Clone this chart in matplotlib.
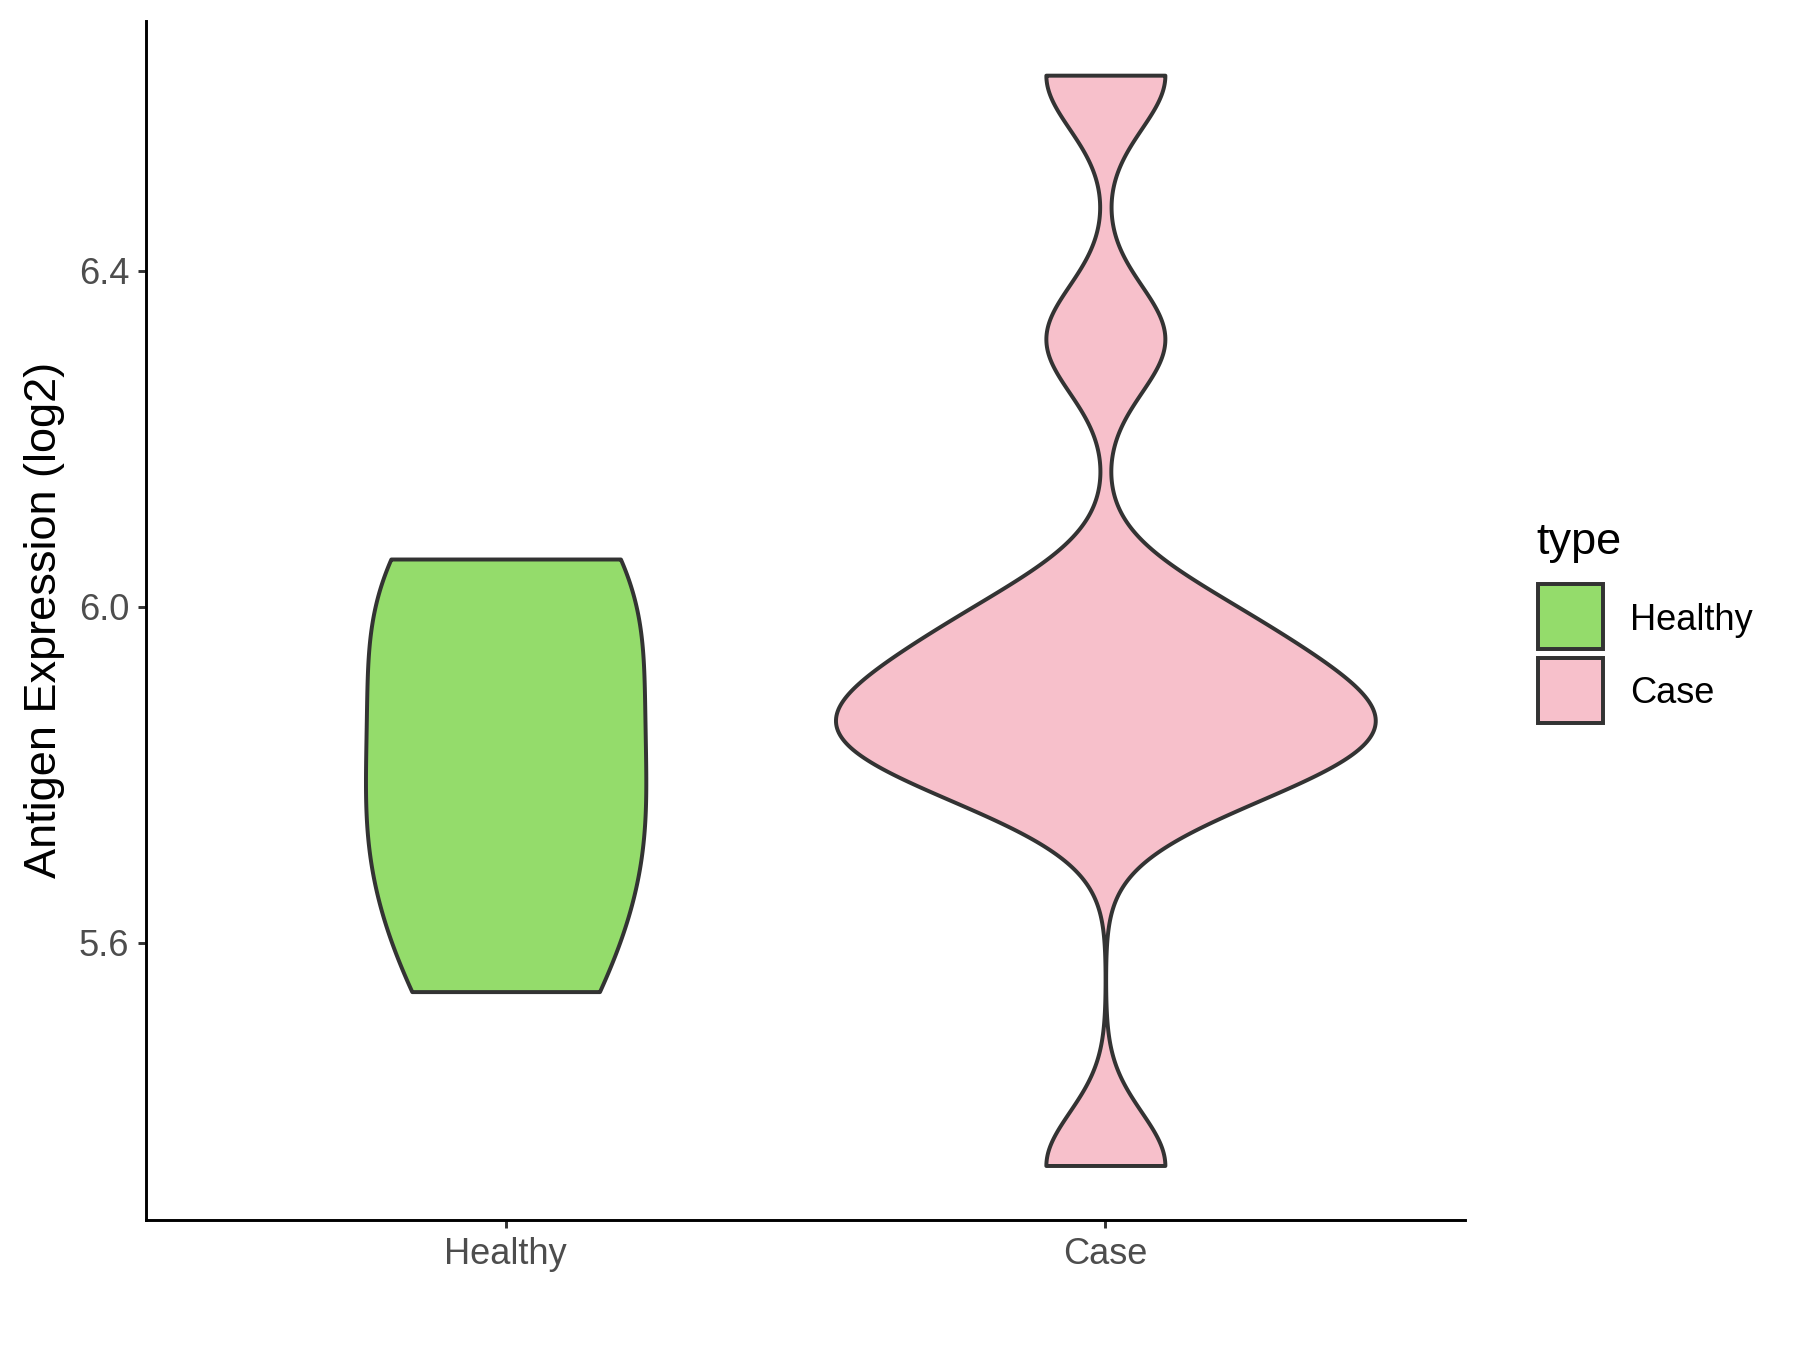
import numpy as np
import matplotlib.pyplot as plt
from matplotlib.patches import Rectangle

plt.rcParams['font.family'] = ['Liberation Sans', 'DejaVu Sans']

# data (log2 antigen expression per sample)
groups = ['Healthy', 'Case']
healthy_vals = [5.542, 5.70, 5.80, 5.98, 6.057]
case_vals = [5.335, 5.78, 5.82, 5.85, 5.87, 5.90, 5.95, 6.00, 6.319, 6.633]
bandwidths = [0.135, 0.0637]
fill_colors = ['#94DC6B', '#F7C0CB']
edge_color = '#333333'

W, H = 1800, 1350


def kde(vals, bw, grid):
    vals = np.asarray(vals)
    z = (grid[:, None] - vals[None, :]) / bw
    return np.exp(-0.5 * z ** 2).sum(axis=1) / (len(vals) * bw * np.sqrt(2 * np.pi))


def fx(px):
    return px / W


def fy(py):
    return 1 - py / H


samples = [healthy_vals, case_vals]
grids, dens = [], []
for vals, bw in zip(samples, bandwidths):
    g = np.linspace(min(vals), max(vals), 512)
    grids.append(g)
    dens.append(kde(vals, bw, g))
# ggplot-like scale="area": all violins share one density scale
dmax = max(d.max() for d in dens)

fig = plt.figure(figsize=(12, 9), dpi=150, facecolor='w')
ax = fig.add_axes([0.081, 0.0963, 0.733, 0.8884])

for i, (g, d) in enumerate(zip(grids, dens)):
    w = d / dmax * 0.45
    ax.fill_betweenx(g, i - w, i + w, facecolor=fill_colors[i], edgecolor=edge_color,
                     linewidth=1.9, joinstyle='round')

allv = np.concatenate([np.asarray(v) for v in samples])
rng = allv.max() - allv.min()
ax.set_ylim(allv.min() - 0.05 * rng, allv.max() + 0.05 * rng)
ax.set_xlim(-0.6, 1.6)
ax.set_xticks(range(len(groups)))
ax.set_xticklabels(groups)
ax.set_yticks([5.6, 6.0, 6.4])
ax.set_yticklabels(['5.6', '6.0', '6.4'])

for s in ['top', 'right']:
    ax.spines[s].set_visible(False)
for s in ['left', 'bottom']:
    ax.spines[s].set_linewidth(1.4)
    ax.spines[s].set_color('black')
ax.tick_params(axis='both', length=4, width=1.4, color='#333333', labelsize=17.4,
               labelcolor='#4D4D4D', pad=4)
ax.set_ylabel('Antigen Expression (log2)', fontsize=21.7, color='black', labelpad=6.5)

# legend drawn by hand, ggplot style (keys touching, title above)
fig.text(fx(1536), fy(554), 'type', fontsize=21.7, va='baseline', ha='left')
key_tops = [584.5, 657.5]
key_size = 65
for c, lab, top in zip(fill_colors, groups, key_tops):
    fig.add_artist(Rectangle((fx(1538), fy(top + key_size)), fx(key_size), key_size / H,
                             transform=fig.transFigure, facecolor=c, edgecolor=edge_color,
                             linewidth=1.9))
    fig.text(fx(1630), fy(top + key_size / 2 + 13), lab, fontsize=17.4, va='baseline',
             ha='left')

fig.savefig('out.png', dpi=150, facecolor='w')
